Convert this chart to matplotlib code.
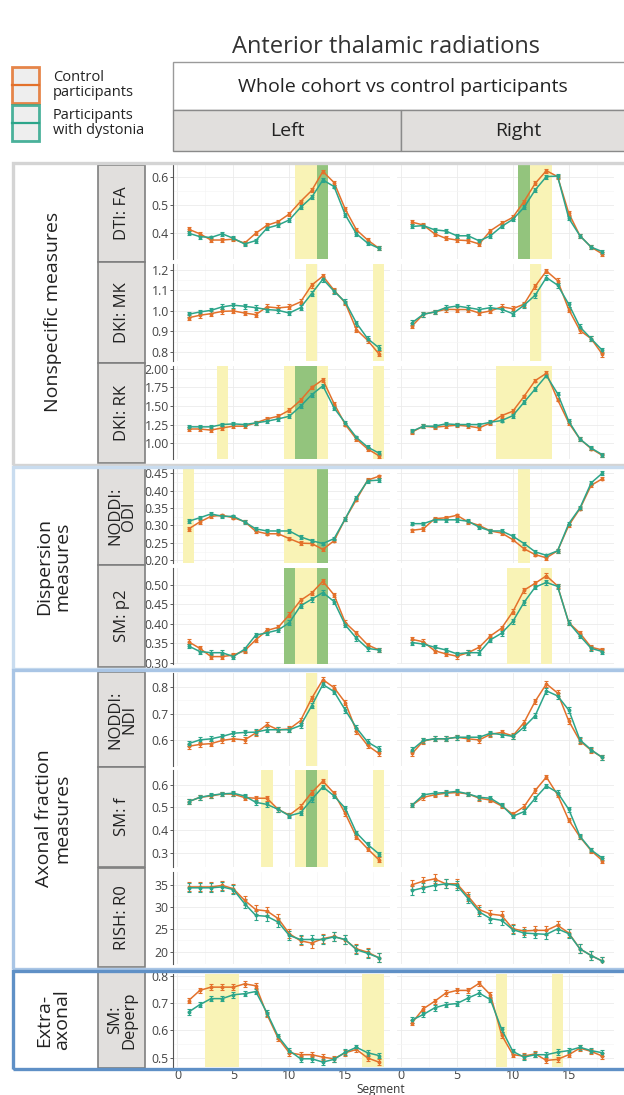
import numpy as np
import matplotlib
matplotlib.use("Agg")
import matplotlib.pyplot as plt
from matplotlib.patches import Rectangle
from matplotlib.lines import Line2D

plt.rcParams['font.family'] = ['Open Sans', 'DejaVu Sans']

# segments along the tract
segments = list(range(1, 19))

# --- values (ctrl = control, dys = dystonia; l/r = hemisphere)
fa_l_c = [0.414, 0.398, 0.376, 0.376, 0.379, 0.365, 0.400, 0.428, 0.441, 0.468, 0.512, 0.551, 0.618, 0.579, 0.485, 0.412, 0.376, 0.347]
fa_l_d = [0.400, 0.388, 0.385, 0.398, 0.382, 0.362, 0.374, 0.418, 0.429, 0.447, 0.491, 0.527, 0.588, 0.565, 0.465, 0.398, 0.365, 0.347]
fa_r_c = [0.439, 0.429, 0.398, 0.382, 0.376, 0.374, 0.362, 0.409, 0.435, 0.456, 0.512, 0.576, 0.621, 0.600, 0.471, 0.391, 0.351, 0.327]
fa_r_d = [0.424, 0.427, 0.412, 0.408, 0.391, 0.391, 0.373, 0.391, 0.424, 0.449, 0.491, 0.553, 0.600, 0.602, 0.453, 0.391, 0.351, 0.335]

mk_l_c = [0.967, 0.979, 0.987, 0.998, 1.000, 0.990, 0.982, 1.020, 1.015, 1.020, 1.044, 1.126, 1.170, 1.101, 1.039, 0.909, 0.857, 0.791]
mk_l_d = [0.984, 0.995, 1.003, 1.020, 1.028, 1.023, 1.016, 1.007, 1.003, 0.990, 1.016, 1.085, 1.155, 1.096, 1.044, 0.941, 0.865, 0.821]
mk_r_c = [0.927, 0.984, 0.995, 1.008, 1.007, 1.007, 0.990, 1.000, 1.020, 1.011, 1.033, 1.121, 1.195, 1.148, 1.007, 0.905, 0.865, 0.789]
mk_r_d = [0.943, 0.984, 0.995, 1.016, 1.024, 1.016, 1.007, 1.016, 1.008, 0.987, 1.028, 1.077, 1.163, 1.126, 1.033, 0.922, 0.865, 0.808]

rk_l_c = [1.190, 1.190, 1.175, 1.205, 1.228, 1.228, 1.272, 1.326, 1.362, 1.443, 1.577, 1.750, 1.855, 1.532, 1.250, 1.054, 0.920, 0.830]
rk_l_d = [1.219, 1.219, 1.219, 1.250, 1.259, 1.250, 1.272, 1.295, 1.326, 1.362, 1.497, 1.653, 1.773, 1.474, 1.272, 1.076, 0.946, 0.865]
rk_r_c = [1.150, 1.228, 1.214, 1.228, 1.241, 1.228, 1.205, 1.272, 1.370, 1.430, 1.630, 1.843, 1.942, 1.587, 1.272, 1.054, 0.925, 0.834]
rk_r_d = [1.160, 1.228, 1.228, 1.259, 1.250, 1.250, 1.250, 1.281, 1.304, 1.370, 1.550, 1.730, 1.910, 1.668, 1.295, 1.054, 0.933, 0.843]

odi_l_c = [0.290, 0.310, 0.326, 0.329, 0.322, 0.311, 0.283, 0.276, 0.276, 0.262, 0.249, 0.248, 0.231, 0.256, 0.319, 0.374, 0.430, 0.441]
odi_l_d = [0.312, 0.322, 0.333, 0.326, 0.326, 0.310, 0.290, 0.284, 0.284, 0.284, 0.267, 0.256, 0.248, 0.262, 0.319, 0.380, 0.428, 0.430]
odi_r_c = [0.286, 0.290, 0.319, 0.322, 0.329, 0.310, 0.300, 0.284, 0.278, 0.259, 0.233, 0.216, 0.207, 0.227, 0.300, 0.348, 0.415, 0.434]
odi_r_d = [0.305, 0.305, 0.316, 0.316, 0.316, 0.312, 0.295, 0.284, 0.284, 0.269, 0.248, 0.224, 0.214, 0.227, 0.305, 0.350, 0.422, 0.450]

p2_l_c = [0.354, 0.337, 0.316, 0.316, 0.320, 0.331, 0.359, 0.383, 0.391, 0.423, 0.460, 0.479, 0.509, 0.474, 0.403, 0.376, 0.346, 0.333]
p2_l_d = [0.343, 0.329, 0.326, 0.326, 0.316, 0.335, 0.371, 0.377, 0.384, 0.403, 0.446, 0.463, 0.480, 0.457, 0.397, 0.363, 0.337, 0.333]
p2_r_c = [0.360, 0.354, 0.331, 0.323, 0.317, 0.326, 0.340, 0.369, 0.389, 0.431, 0.486, 0.504, 0.523, 0.497, 0.403, 0.376, 0.340, 0.333]
p2_r_d = [0.352, 0.348, 0.340, 0.333, 0.323, 0.326, 0.326, 0.359, 0.376, 0.406, 0.455, 0.494, 0.506, 0.496, 0.403, 0.369, 0.337, 0.329]

ndi_l_c = [0.578, 0.585, 0.588, 0.600, 0.606, 0.602, 0.628, 0.659, 0.640, 0.643, 0.674, 0.758, 0.828, 0.798, 0.742, 0.635, 0.581, 0.551]
ndi_l_d = [0.588, 0.602, 0.606, 0.615, 0.627, 0.630, 0.631, 0.640, 0.640, 0.640, 0.656, 0.730, 0.810, 0.783, 0.714, 0.647, 0.594, 0.569]
ndi_r_c = [0.551, 0.598, 0.606, 0.606, 0.612, 0.606, 0.602, 0.623, 0.630, 0.617, 0.667, 0.747, 0.812, 0.778, 0.673, 0.598, 0.563, 0.536]
ndi_r_d = [0.565, 0.600, 0.606, 0.606, 0.612, 0.612, 0.612, 0.627, 0.622, 0.615, 0.650, 0.693, 0.786, 0.767, 0.714, 0.602, 0.565, 0.536]

f_l_c = [0.525, 0.544, 0.550, 0.559, 0.558, 0.543, 0.540, 0.540, 0.491, 0.466, 0.503, 0.565, 0.615, 0.562, 0.473, 0.370, 0.318, 0.270]
f_l_d = [0.525, 0.544, 0.553, 0.559, 0.562, 0.550, 0.522, 0.513, 0.491, 0.463, 0.476, 0.535, 0.590, 0.550, 0.496, 0.388, 0.337, 0.296]
f_r_c = [0.510, 0.544, 0.555, 0.562, 0.565, 0.559, 0.540, 0.532, 0.506, 0.470, 0.503, 0.574, 0.633, 0.555, 0.444, 0.370, 0.310, 0.266]
f_r_d = [0.510, 0.555, 0.562, 0.565, 0.570, 0.559, 0.544, 0.540, 0.510, 0.461, 0.481, 0.540, 0.594, 0.565, 0.491, 0.373, 0.313, 0.277]

r0_l_c = [34.5, 34.5, 34.5, 34.85, 34.1, 31.5, 29.4, 29.1, 27.4, 24.0, 22.4, 21.9, 22.9, 23.4, 22.6, 20.6, 19.85, 18.6]
r0_l_d = [34.3, 34.3, 34.3, 34.5, 33.9, 30.75, 28.1, 27.9, 26.6, 23.6, 22.7, 22.7, 22.7, 23.3, 22.7, 20.4, 19.6, 18.6]
r0_r_c = [35.0, 35.8, 36.3, 35.2, 35.2, 32.4, 29.4, 28.4, 28.1, 25.1, 24.6, 24.75, 24.75, 25.9, 24.15, 20.6, 19.1, 17.85]
r0_r_d = [33.7, 34.3, 34.85, 35.2, 34.85, 31.9, 28.9, 27.4, 27.0, 24.9, 24.15, 24.0, 23.85, 25.1, 24.0, 20.6, 19.1, 17.85]

dp_l_c = [0.709, 0.746, 0.758, 0.758, 0.758, 0.770, 0.763, 0.658, 0.571, 0.518, 0.511, 0.511, 0.502, 0.496, 0.518, 0.530, 0.499, 0.484]
dp_l_d = [0.667, 0.694, 0.716, 0.716, 0.730, 0.734, 0.742, 0.664, 0.578, 0.526, 0.496, 0.496, 0.484, 0.494, 0.520, 0.538, 0.518, 0.508]
dp_r_c = [0.628, 0.679, 0.706, 0.736, 0.746, 0.746, 0.772, 0.730, 0.583, 0.511, 0.506, 0.514, 0.490, 0.494, 0.511, 0.535, 0.523, 0.506]
dp_r_d = [0.638, 0.658, 0.682, 0.694, 0.698, 0.718, 0.736, 0.712, 0.604, 0.523, 0.502, 0.511, 0.511, 0.520, 0.526, 0.538, 0.526, 0.518]

# approx. standard error half-widths per measure
errs = [0.007, 0.012, 0.025, 0.005, 0.006, 0.010, 0.010, 1.0, 0.010]

# significant segments (yellow / green shading)
fa_l_yel, fa_l_grn, fa_r_yel, fa_r_grn = [11, 12], [13], [12, 13], [11]
mk_l_yel, mk_l_grn, mk_r_yel, mk_r_grn = [12, 18], [], [12], []
rk_l_yel, rk_l_grn, rk_r_yel, rk_r_grn = [4, 10, 13, 18], [11, 12], [9, 10, 11, 12, 13], []
odi_l_yel, odi_l_grn, odi_r_yel, odi_r_grn = [1, 10, 11, 12], [13], [11], []
p2_l_yel, p2_l_grn, p2_r_yel, p2_r_grn = [11, 12], [10, 13], [10, 11, 13], []
ndi_l_yel, ndi_l_grn, ndi_r_yel, ndi_r_grn = [12], [], [], []
f_l_yel, f_l_grn, f_r_yel, f_r_grn = [8, 11, 13, 18], [12], [], []
r0_l_yel, r0_l_grn, r0_r_yel, r0_r_grn = [], [], [], []
dp_l_yel, dp_l_grn, dp_r_yel, dp_r_grn = [3, 4, 5, 17, 18], [], [9, 14], []

strip_labels = ["DTI: FA", "DKI: MK", "DKI: RK", "NODDI:\nODI", "SM: p2",
                "NODDI:\nNDI", "SM: f", "RISH: R0", "SM:\nDeperp"]
group_labels = ["Nonspecific measures", "Dispersion\nmeasures",
                "Axonal fraction\nmeasures", "Extra-\naxonal"]

rows = [
    (fa_l_c, fa_l_d, fa_r_c, fa_r_d, fa_l_yel, fa_l_grn, fa_r_yel, fa_r_grn),
    (mk_l_c, mk_l_d, mk_r_c, mk_r_d, mk_l_yel, mk_l_grn, mk_r_yel, mk_r_grn),
    (rk_l_c, rk_l_d, rk_r_c, rk_r_d, rk_l_yel, rk_l_grn, rk_r_yel, rk_r_grn),
    (odi_l_c, odi_l_d, odi_r_c, odi_r_d, odi_l_yel, odi_l_grn, odi_r_yel, odi_r_grn),
    (p2_l_c, p2_l_d, p2_r_c, p2_r_d, p2_l_yel, p2_l_grn, p2_r_yel, p2_r_grn),
    (ndi_l_c, ndi_l_d, ndi_r_c, ndi_r_d, ndi_l_yel, ndi_l_grn, ndi_r_yel, ndi_r_grn),
    (f_l_c, f_l_d, f_r_c, f_r_d, f_l_yel, f_l_grn, f_r_yel, f_r_grn),
    (r0_l_c, r0_l_d, r0_r_c, r0_r_d, r0_l_yel, r0_l_grn, r0_r_yel, r0_r_grn),
    (dp_l_c, dp_l_d, dp_r_c, dp_r_d, dp_l_yel, dp_l_grn, dp_r_yel, dp_r_grn),
]

# --- layout (pixels) and axis settings
row_px = [(165, 259), (264, 361), (366, 459), (469, 563), (568, 664),
          (673, 766), (770, 867), (872, 964), (974, 1067)]
strip_px = [(165, 262), (262, 363), (363, 463), (467, 565), (565, 667),
            (672, 767), (767, 867), (868, 967), (972, 1068)]
ylims = [(0.309, 0.641), (0.756, 1.229), (0.785, 2.04), (0.192, 0.462), (0.297, 0.543),
         (0.504, 0.853), (0.238, 0.664), (17.2, 37.85), (0.466, 0.806)]
yticks = [[0.4, 0.5, 0.6], [0.8, 0.9, 1.0, 1.1, 1.2], [1.0, 1.25, 1.5, 1.75, 2.0],
          [0.2, 0.25, 0.3, 0.35, 0.4, 0.45], [0.3, 0.35, 0.4, 0.45, 0.5],
          [0.6, 0.7, 0.8], [0.3, 0.4, 0.5, 0.6], [20, 25, 30, 35], [0.5, 0.6, 0.7, 0.8]]
yfmt = ["%.1f", "%.1f", "%.2f", "%.2f", "%.2f", "%.1f", "%.1f", "%d", "%.1f"]
groups_px = [(163, 465, '#d4d4d4'), (467, 669, '#c9dcef'), (670, 969, '#a9c5e5'), (971, 1069, '#5f90c6')]
group_mid = [312, 566, 818, 1020]

ORANGE = '#E3712B'
GREEN = '#2CA58A'
YEL = '#f9f3b6'
GRN = '#93c47d'

W, H = 624, 1095
fig = plt.figure(figsize=(W / 100, H / 100), dpi=100)


def fig_box(x0, y0, x1, y1):
    return [x0 / W, 1 - y1 / H, (x1 - x0) / W, (y1 - y0) / H]


def rect(x0, y0, x1, y1, **kw):
    r = Rectangle((x0 / W, 1 - y1 / H), (x1 - x0) / W, (y1 - y0) / H,
                  transform=fig.transFigure, **kw)
    fig.add_artist(r)


def ftext(x, y, s, **kw):
    fig.text(x / W, 1 - y / H, s, **kw)


panel_x = [(173, 390), (396.5, 613.5)]

for i, row in enumerate(rows):
    top, bot = row_px[i]
    for side in (0, 1):
        ctrl, dys = row[2 * side], row[2 * side + 1]
        yel, grn = row[4 + 2 * side], row[5 + 2 * side]
        ax = fig.add_axes(fig_box(panel_x[side][0], top, panel_x[side][1], bot))
        ax.set_xlim(-0.4, 19.0)
        ax.set_ylim(*ylims[i])
        ax.set_facecolor('white')
        for s in yel:
            ax.axvspan(s - 0.5, s + 0.5, color=YEL, lw=0, zorder=1)
        for s in grn:
            ax.axvspan(s - 0.5, s + 0.5, color=GRN, lw=0, zorder=1)
        for vals, col in ((ctrl, ORANGE), (dys, GREEN)):
            ax.errorbar(segments, vals, yerr=errs[i], color=col, lw=1.1,
                        elinewidth=0.8, capsize=1.6, capthick=0.8,
                        marker='o', ms=1.8, zorder=3)
        yt = yticks[i]
        ax.set_yticks(yt)
        ax.set_yticks([(a + b) / 2 for a, b in zip(yt[:-1], yt[1:])], minor=True)
        ax.set_xticks([0, 5, 10, 15])
        ax.set_xticks([2.5, 7.5, 12.5, 17.5], minor=True)
        ax.set_axisbelow(True)
        ax.grid(which='major', color='#ebebeb', lw=0.6)
        ax.grid(which='minor', color='#f5f5f5', lw=0.5)
        for sp in ax.spines.values():
            sp.set_visible(False)
        ax.tick_params(which='minor', length=0)
        if side == 0:
            ax.spines['left'].set_visible(True)
            ax.spines['left'].set_color('#555555')
            ax.spines['left'].set_linewidth(0.8)
            ax.set_yticklabels([yfmt[i] % v for v in yt])
            ax.tick_params(axis='y', labelsize=8.8, colors='#444444', length=2,
                           width=0.6, pad=1)
        else:
            ax.tick_params(axis='y', left=False, labelleft=False)
        if i == len(rows) - 1:
            ax.tick_params(axis='x', labelsize=9, colors='#444444', length=0, pad=1.5)
        else:
            ax.tick_params(axis='x', bottom=False, labelbottom=False)

# group frames and labels
for (y0, y1, col), lab, ym in zip(groups_px, group_labels, group_mid):
    rect(13, y0, 660, y1, fill=False, ec=col, lw=2.4, zorder=5)
    ftext(53, ym, lab, rotation=90, ha='center', va='center', size=14,
          color='#222222', linespacing=1.0)

# strip labels
for (y0, y1), lab in zip(strip_px, strip_labels):
    rect(98, y0, 145, y1, fc='#e1dfdd', ec='#7f7f7f', lw=1.2, zorder=4)
    ftext(122, (y0 + y1) / 2, lab, rotation=90, ha='center', va='center',
          size=12, color='#222222', linespacing=0.85, zorder=6)

# header boxes
rect(173, 62, 660, 110, fc='white', ec='#9a9a9a', lw=1.0)
ftext(403, 87, "Whole cohort vs control participants", ha='center', va='center',
      size=14, color='#222222')
rect(173, 110, 401, 151, fc='#e1dfdd', ec='#8a8a8a', lw=1.0)
rect(401, 110, 660, 151, fc='#e1dfdd', ec='#8a8a8a', lw=1.0)
ftext(287, 131, "Left", ha='center', va='center', size=14, color='#222222')
ftext(518, 131, "Right", ha='center', va='center', size=14, color='#222222')

# legend
for (y0, y1), col, lab in (((67, 103), ORANGE, "Control\nparticipants"),
                           ((105, 141), GREEN, "Participants\nwith dystonia")):
    rect(12, y0, 39, y1, fc='#ececec', ec=col, lw=2.0, alpha=0.85)
    ym = 1 - (y0 + y1) / 2 / H
    fig.add_artist(Line2D([12 / W, 39 / W], [ym, ym], color=col, lw=1.6,
                          transform=fig.transFigure))
    ftext(53, (y0 + y1) / 2, lab, ha='left', va='center', size=10.5,
          color='#222222', linespacing=1.0)

ftext(386, 47, "Anterior thalamic radiations", ha='center', va='center',
      size=17, color='#333333')
ftext(381, 1090, "Segment", ha='center', va='center', size=8.5, color='#333333')

fig.savefig("out.png", dpi=100)
